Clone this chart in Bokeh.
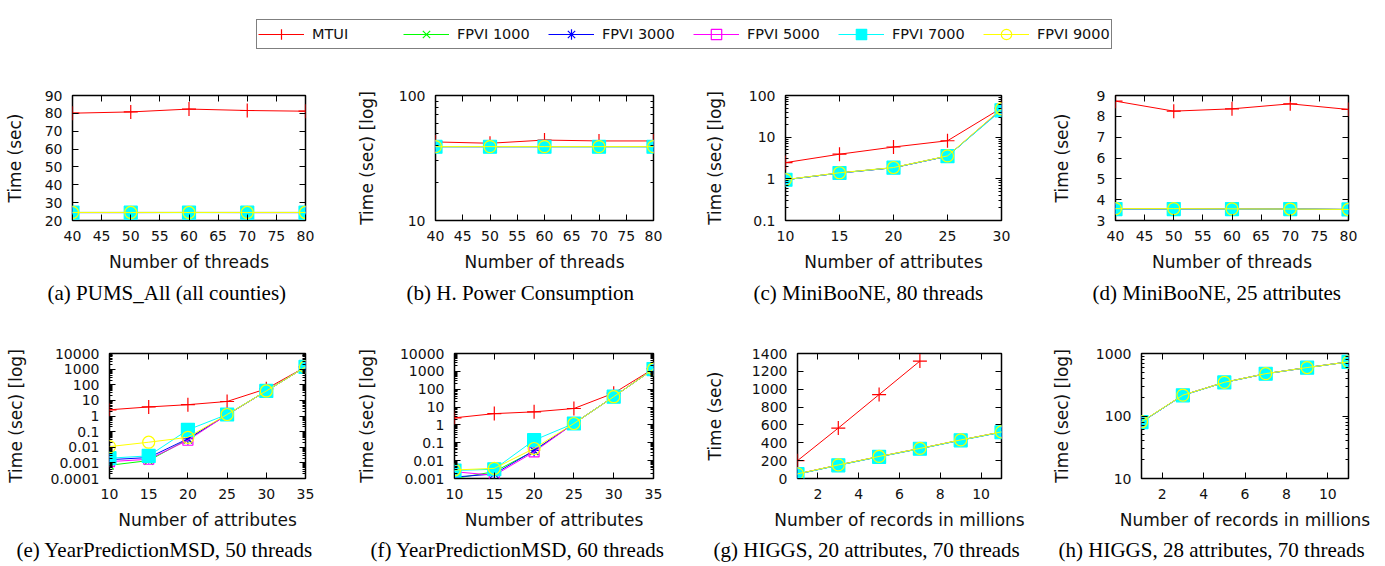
from bokeh.plotting import figure
from bokeh.models import (FixedTicker, LinearAxis, LogAxis, Title, Legend, LegendItem,
                          CustomJSTickFormatter)
from bokeh.layouts import column, row
from bokeh.embed import file_html
from bokeh.resources import INLINE

SERIES = ["MTUI", "FPVI 1000", "FPVI 3000", "FPVI 5000", "FPVI 7000", "FPVI 9000"]

# (a) PUMS_All (all counties)
A_X = [40, 50, 60, 70, 80]
A_MTUI = [80.1, 80.8, 82.4, 81.6, 81.2]
A_F1000 = [24.5, 24.5, 24.5, 24.5, 24.5]
A_F3000 = [24.5, 24.5, 24.5, 24.5, 24.5]
A_F5000 = [24.4, 24.4, 24.5, 24.4, 24.4]
A_F7000 = [24.4, 24.4, 24.4, 24.4, 24.4]
A_F9000 = [24.5, 24.5, 24.5, 24.5, 24.5]

# (b) H. Power Consumption
B_X = [40, 50, 60, 70, 80]
B_MTUI = [42.5, 41.5, 44.0, 43.3, 43.3]
B_F1000 = [39.0, 39.0, 39.0, 39.0, 39.0]
B_F3000 = [39.0, 39.0, 39.0, 39.0, 39.0]
B_F5000 = [39.0, 38.9, 39.0, 39.0, 39.0]
B_F7000 = [38.9, 38.9, 38.9, 38.9, 38.9]
B_F9000 = [39.0, 39.0, 39.0, 39.0, 39.0]

# (c) MiniBooNE, 80 threads
C_X = [10, 15, 20, 25, 30]
C_MTUI = [2.45, 3.9, 5.8, 8.2, 50]
C_F1000 = [0.95, 1.38, 1.85, 3.5, 46]
C_F3000 = [0.95, 1.38, 1.85, 3.5, 46]
C_F5000 = [0.95, 1.38, 1.85, 3.5, 47]
C_F7000 = [0.95, 1.38, 1.85, 3.5, 44]
C_F9000 = [0.96, 1.40, 1.87, 3.55, 48]

# (d) MiniBooNE, 25 attributes
D_X = [40, 50, 60, 70, 80]
D_MTUI = [8.73, 8.25, 8.36, 8.6, 8.33]
D_F1000 = [3.56, 3.56, 3.56, 3.55, 3.53]
D_F3000 = [3.56, 3.56, 3.56, 3.55, 3.53]
D_F5000 = [3.55, 3.55, 3.55, 3.55, 3.53]
D_F7000 = [3.55, 3.55, 3.55, 3.55, 3.53]
D_F9000 = [3.57, 3.57, 3.56, 3.55, 3.53]

# (e) YearPredictionMSD, 50 threads
E_X = [10, 15, 20, 25, 30, 35]
E_MTUI = [2.5, 3.8, 5.3, 8.5, 55, 1380]
E_F1000 = [0.0007, 0.0014, 0.032, 1.2, 40, 1380]
E_F3000 = [0.0016, 0.0022, 0.035, 1.2, 40, 1380]
E_F5000 = [0.0012, 0.0017, 0.028, 1.2, 40, 1380]
E_F7000 = [0.002, 0.0028, 0.13, 1.25, 40, 1380]
E_F9000 = [0.011, 0.021, 0.043, 1.25, 40, 1380]

# (f) YearPredictionMSD, 60 threads
F_X = [10, 15, 20, 25, 30, 35]
F_MTUI = [2.5, 4.3, 5.4, 8.3, 60, 1400]
F_F1000 = [0.001, 0.0024, 0.035, 1.2, 38, 1350]
F_F3000 = [0.0012, 0.0018, 0.037, 1.2, 38, 1350]
F_F5000 = [0.0024, 0.0015, 0.031, 1.2, 38, 1350]
F_F7000 = [0.0028, 0.0033, 0.14, 1.2, 38, 1350]
F_F9000 = [0.003, 0.0037, 0.048, 1.2, 38, 1350]

# (g) HIGGS, 20 attributes, 70 threads
G_X_MTUI = [1, 3, 5, 7]
G_MTUI = [200, 565, 940, 1315]
G_X = [1, 3, 5, 7, 9, 11]
G_F1000 = [50, 150, 245, 335, 430, 520]
G_F3000 = [50, 150, 245, 335, 430, 520]
G_F5000 = [50, 150, 245, 335, 430, 520]
G_F7000 = [48, 148, 243, 333, 428, 518]
G_F9000 = [52, 152, 247, 337, 432, 522]

# (h) HIGGS, 28 attributes, 70 threads
H_X = [1, 3, 5, 7, 9, 11]
H_F1000 = [80, 215, 345, 475, 595, 735]
H_F3000 = [80, 215, 345, 475, 595, 735]
H_F5000 = [80, 215, 345, 475, 595, 735]
H_F7000 = [80, 214, 344, 474, 594, 734]
H_F9000 = [81, 216, 346, 476, 596, 736]

# tick labels
THREADS_TICKS = [40, 45, 50, 55, 60, 65, 70, 75, 80]
ATTR_TICKS_C = [10, 15, 20, 25, 30]
ATTR_TICKS_EF = [10, 15, 20, 25, 30, 35]
REC_TICKS = [2, 4, 6, 8, 10]

# ---------------------------------------------------------------- styling
COLORS = ["#ff0000", "#00ff00", "#0000ff", "#ff00ff", "#00ffff", "#ffff00"]
MARKERS = ["cross", "x", "asterisk", "square", "square", "circle"]
SIZES = [14, 12, 12, 10, 13, 12]
FILLED = [False, False, False, False, True, False]
AX_FONT = "DejaVu Sans"
CAP_FONT = "Liberation Serif"


def add_series(p, x, y, k):
    c = COLORS[k]
    r1 = p.line(x, y, line_color=c, line_width=1)
    r2 = p.scatter(x, y, marker=MARKERS[k], size=SIZES[k], line_color=c,
                   fill_color=c if FILLED[k] else None, line_width=1.2)
    return r1, r2


def log_minor(lo_exp, hi_exp):
    return [m * 10.0 ** e for e in range(lo_exp, hi_exp) for m in range(2, 10)]


def style_axis(ax, labels=True):
    ax.axis_line_color = None
    ax.major_tick_in = 6
    ax.major_tick_out = 0
    ax.minor_tick_in = 3
    ax.minor_tick_out = 0
    ax.major_tick_line_color = "black"
    ax.minor_tick_line_color = "black"
    ax.major_label_text_font = AX_FONT
    ax.major_label_text_color = "#111111"
    ax.major_label_text_font_size = "14px"
    if labels:
        ax.major_label_standoff = 10
    else:
        ax.major_label_standoff = 0
        ax.formatter = CustomJSTickFormatter(code="return '';")
    ax.axis_label_text_font = AX_FONT
    ax.axis_label_text_font_size = "17px"
    ax.axis_label_text_font_style = "normal"
    ax.axis_label_text_color = "#111111"


def panel(width, height, borders, xr, yr, ylog, xticks, yticks, yminor,
          xlabel, ylabel, y_als, caption, cap_off, cap_standoff, series):
    mbl, mbr, mbt, mbb = borders
    p = figure(width=width, height=height, x_range=xr, y_range=yr,
               y_axis_type="log" if ylog else "linear",
               output_backend="svg", toolbar_location=None,
               min_border_left=mbl, min_border_right=mbr,
               min_border_top=mbt, min_border_bottom=mbb)
    p.grid.visible = False
    p.outline_line_color = "black"
    p.outline_line_width = 1.5
    p.xaxis.ticker = FixedTicker(ticks=xticks, minor_ticks=[])
    p.yaxis.ticker = FixedTicker(ticks=yticks, minor_ticks=yminor)
    if ylog:
        p.yaxis.formatter = CustomJSTickFormatter(code="return tick.toString();")
    p.xaxis.axis_label = xlabel
    p.yaxis.axis_label = ylabel
    for ax in p.xaxis:
        style_axis(ax)
        ax.axis_label_standoff = 8
    for ax in p.yaxis:
        style_axis(ax)
        ax.axis_label_standoff = y_als
    top = LinearAxis(ticker=FixedTicker(ticks=xticks, minor_ticks=[]))
    style_axis(top, labels=False)
    p.add_layout(top, "above")
    right = (LogAxis if ylog else LinearAxis)(ticker=FixedTicker(ticks=yticks, minor_ticks=yminor))
    style_axis(right, labels=False)
    p.add_layout(right, "right")
    for k, (x, y) in enumerate(series):
        if x is not None:
            add_series(p, x, y, k)
    p.add_layout(Title(text=caption, align="left", offset=cap_off,
                       text_font=CAP_FONT, text_font_size="21px",
                       text_font_style="normal", text_color="black",
                       standoff=cap_standoff), "below")
    return p


R1H, R2H = 250, 248
R1B = (27, 98)
R2B = (35, 88)

pa = panel(353, R1H, (72, 48) + R1B, (40, 80), (20, 90), False, THREADS_TICKS,
           list(range(20, 91, 10)), [], "Number of threads", "Time (sec)", 17,
           "(a) PUMS_All (all counties)", -25, 8,
           [(A_X, A_MTUI), (A_X, A_F1000), (A_X, A_F3000), (A_X, A_F5000), (A_X, A_F7000), (A_X, A_F9000)])
pb = panel(348, R1H, (76, 48) + R1B, (40, 80), (10, 100), True, THREADS_TICKS,
           [10, 100], log_minor(1, 2), "Number of threads", "Time (sec) [log]", 19,
           "(b) H. Power Consumption", -29, 8,
           [(B_X, B_MTUI), (B_X, B_F1000), (B_X, B_F3000), (B_X, B_F5000), (B_X, B_F7000), (B_X, B_F9000)])
pc = panel(347, R1H, (76, 47) + R1B, (10, 30), (0.1, 100), True, ATTR_TICKS_C,
           [0.1, 1, 10, 100], log_minor(-1, 2), "Number of attributes", "Time (sec) [log]", 21,
           "(c) MiniBooNE, 80 threads", -32, 8,
           [(C_X, C_MTUI), (C_X, C_F1000), (C_X, C_F3000), (C_X, C_F5000), (C_X, C_F7000), (C_X, C_F9000)])
pd_ = panel(337, R1H, (58, 37) + R1B, (40, 80), (3, 9), False, THREADS_TICKS,
            list(range(3, 10)), [], "Number of threads", "Time (sec)", 22,
            "(d) MiniBooNE, 25 attributes", -23, 8,
            [(D_X, D_MTUI), (D_X, D_F1000), (D_X, D_F3000), (D_X, D_F5000), (D_X, D_F7000), (D_X, D_F9000)])

pe = panel(353, R2H, (109, 48) + R2B, (10, 35), (0.0001, 10000), True, ATTR_TICKS_EF,
           [0.0001, 0.001, 0.01, 0.1, 1, 10, 100, 1000, 10000], log_minor(-4, 4),
           "Number of attributes", "Time (sec) [log]", 22,
           "(e) YearPredictionMSD, 50 threads", -93, 6,
           [(E_X, E_MTUI), (E_X, E_F1000), (E_X, E_F3000), (E_X, E_F5000), (E_X, E_F7000), (E_X, E_F9000)])
pf = panel(348, R2H, (94, 48) + R2B, (10, 35), (0.001, 10000), True, ATTR_TICKS_EF,
           [0.001, 0.01, 0.1, 1, 10, 100, 1000, 10000], log_minor(-3, 4),
           "Number of attributes", "Time (sec) [log]", 20,
           "(f) YearPredictionMSD, 60 threads", -84, 6,
           [(F_X, F_MTUI), (F_X, F_F1000), (F_X, F_F3000), (F_X, F_F5000), (F_X, F_F7000), (F_X, F_F9000)])
pg = panel(347, R2H, (85, 47) + R2B, (1, 11), (0, 1400), False, REC_TICKS,
           list(range(0, 1401, 200)), [], "Number of records in millions", "Time (sec)", 24,
           "(g) HIGGS, 20 attributes, 70 threads", -84, 6,
           [(G_X_MTUI, G_MTUI), (G_X, G_F1000), (G_X, G_F3000), (G_X, G_F5000), (G_X, G_F7000), (G_X, G_F9000)])
ph = panel(337, R2H, (86, 37) + R2B, (1, 11), (10, 1000), True, REC_TICKS,
           [10, 100, 1000], log_minor(1, 3), "Number of records in millions", "Time (sec) [log]", 21,
           "(h) HIGGS, 28 attributes, 70 threads", -83, 6,
           [(None, None), (H_X, H_F1000), (H_X, H_F3000), (H_X, H_F5000), (H_X, H_F7000), (H_X, H_F9000)])

# ---------------------------------------------------------------- legend strip
# the legend's sample renderers reuse panel (a)'s data, which lies outside this strip's view
lp = figure(width=1385, height=68, output_backend="svg", toolbar_location=None,
            min_border=0, x_axis_location=None, y_axis_location=None,
            x_range=(0, 1), y_range=(0, 1))
lp.grid.visible = False
lp.outline_line_color = None
items = []
LEG_DATA = [A_MTUI, A_F1000, A_F3000, A_F5000, A_F7000, A_F9000]
for k, name in enumerate(SERIES):
    r1, r2 = add_series(lp, A_X, LEG_DATA[k], k)
    items.append(LegendItem(label=name, renderers=[r1, r2]))
leg = Legend(items=items, orientation="horizontal", location=(256, 19),
             glyph_width=46, glyph_height=26, label_standoff=8, label_width=73,
             spacing=18, padding=1, margin=0,
             label_text_font=AX_FONT, label_text_font_size="14.5px",
             label_text_color="#111111",
             border_line_color="black", border_line_width=1,
             background_fill_color="white", background_fill_alpha=1)
lp.add_layout(leg)

layout = column(lp, row(pa, pb, pc, pd_), row(pe, pf, pg, ph))
open("out.html", "w").write(file_html(layout, INLINE))
